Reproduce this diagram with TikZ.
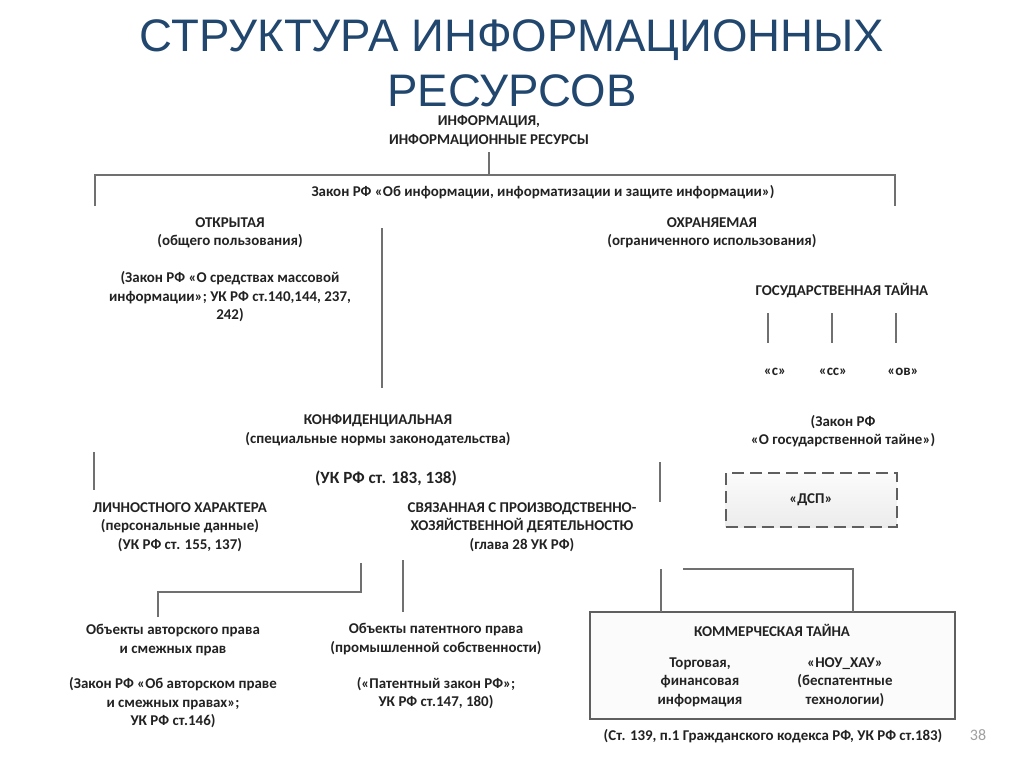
\documentclass[tikz,border=0pt]{standalone}
\usepackage{fontspec}
\setmainfont{Carlito}
\newfontfamily\titlefont{Liberation Sans}
\definecolor{txt}{HTML}{222222}
\definecolor{lnc}{HTML}{707070}
\definecolor{ttl}{HTML}{22476F}
\definecolor{pg}{HTML}{A0A0A0}
\begin{document}
\begin{tikzpicture}[x=0.75pt,y=-0.75pt,
  t/.style={font=\bfseries\fontsize{11.2}{13.9}\selectfont, text=txt, align=center, inner sep=0pt},
  ttlfont/.style={font=\titlefont\fontsize{34.2}{40}\selectfont, text=ttl, inner sep=0pt},
  conn/.style={draw=lnc, line width=1.5pt},
  dspbox/.style={draw=lnc!85!black, line width=1.5pt, dash pattern=on 9pt off 4.5pt,
     top color=gray!3, bottom color=gray!15, minimum width=128.25pt, minimum height=40.5pt,
     font=\bfseries\fontsize{11.2}{13.9}\selectfont, text=txt},
  combox/.style={draw=lnc!85!black, line width=1.5pt, fill=gray!3,
     minimum width=273.75pt, minimum height=80.25pt}]
\useasboundingbox (0,0) rectangle (1024,767);
\fill[white] (0,0) rectangle (1024,767);

% title
\node[ttlfont] (title1) at (512,40) {СТРУКТУРА ИНФОРМАЦИОННЫХ};
\node[ttlfont] (title2) at (512,91) {РЕСУРСОВ};

% root
\node[t] (info) at (489,131) {ИНФОРМАЦИЯ,\\ИНФОРМАЦИОННЫЕ РЕСУРСЫ};
\coordinate (top) at (489,175);
\coordinate (hl) at (95,175);
\coordinate (hr) at (895,175);
\coordinate (hld) at (95,206);
\coordinate (hrd) at (895,206);
\draw[conn] ([yshift=-4pt]info.south) -- (top);
\draw[conn] (hld) -- (hl) -- (hr) -- (hrd);
\node[t] (law1) at (543,192) {Закон РФ «Об информации, информатизации и защите информации»)};

% open
\node[t] (open) at (230,233) {ОТКРЫТАЯ\\(общего пользования)};
\node[t] (openlaw) at (230,297) {(Закон РФ «О средствах массовой\\информации»; УК РФ ст.140,144, 237,\\242)};
\coordinate (v1a) at (382,228);
\coordinate (v1b) at (382,388);
\draw[conn] (v1a) -- (v1b);

% protected
\node[t] (prot) at (712,233) {ОХРАНЯЕМАЯ\\(ограниченного использования)};
\node[t] (gos) at (842,291) {ГОСУДАРСТВЕННАЯ ТАЙНА};
\coordinate (g1a) at (768,313); \coordinate (g1b) at (768,343);
\coordinate (g2a) at (832,313); \coordinate (g2b) at (832,343);
\coordinate (g3a) at (896,313); \coordinate (g3b) at (896,343);
\draw[conn] (g1a) -- (g1b);
\draw[conn] (g2a) -- (g2b);
\draw[conn] (g3a) -- (g3b);
\node[t] (s1) at (775,372) {«с»};
\node[t] (s2) at (833,372) {«сс»};
\node[t] (s3) at (903,372) {«ов»};
\node[t] (goslaw) at (843,431) {(Закон РФ\\«О государственной тайне»)};
\node[dspbox] (dsp) at (811,500) {«ДСП»};

% confidential
\node[t] (conf) at (378,430) {КОНФИДЕНЦИАЛЬНАЯ\\(специальные нормы законодательства)};
\node[t] (confuk) at (386,478) {\fontsize{12.8}{15}\selectfont(УК РФ ст. 183, 138)};
\coordinate (cla) at (94,452); \coordinate (clb) at (94,490);
\coordinate (cra) at (660,462); \coordinate (crb) at (660,502);
\draw[conn] (cla) -- (clb);
\draw[conn] (cra) -- (crb);

\node[t] (pers) at (180,527) {ЛИЧНОСТНОГО ХАРАКТЕРА\\(персональные данные)\\(УК РФ ст. 155, 137)};
\node[t] (econ) at (522,527) {СВЯЗАННАЯ С ПРОИЗВОДСТВЕННО-\\ХОЗЯЙСТВЕННОЙ ДЕЯТЕЛЬНОСТЮ\\(глава 28 УК РФ)};

% intellectual property branches
\coordinate (e1a) at (361,563); \coordinate (e1b) at (361,592);
\coordinate (e1c) at (158,592); \coordinate (e1d) at (158,617);
\coordinate (e2a) at (403,560); \coordinate (e2b) at (403,612);
\draw[conn] (e1a) -- (e1b) -- (e1c) -- (e1d);
\draw[conn] (e2a) -- (e2b);

\node[t] (copy) at (173,640) {Объекты авторского права\\и смежных прав};
\node[t] (copylaw) at (173,703) {(Закон РФ «Об авторском праве\\и смежных правах»;\\УК РФ ст.146)};
\node[t] (pat) at (436,639) {Объекты патентного права\\(промышленной собственности)};
\node[t] (patlaw) at (436,693) {(«Патентный закон РФ»;\\УК РФ ст.147, 180)};

% commercial secret
\node[combox] (com) at (772.5,665.5) {};
\coordinate (k1a) at (661,569); \coordinate (k1b) at (661,612);
\coordinate (k2a) at (683,569); \coordinate (k2b) at (853,569); \coordinate (k2c) at (853,612);
\draw[conn] (k1a) -- (k1b);
\draw[conn] (k2a) -- (k2b) -- (k2c);
\node[t] (comt) at (772,630) {КОММЕРЧЕСКАЯ ТАЙНА};
\node[t] (trade) at (700,682) {Торговая,\\финансовая\\информация};
\node[t] (know) at (845,682) {«НОУ\_ХАУ»\\(беспатентные\\технологии)};
\node[t] (comlaw) at (773,736) {(Ст. 139, п.1 Гражданского кодекса РФ, УК РФ ст.183)};
\node[font=\fontsize{12}{14}\selectfont, text=pg, inner sep=0pt] (page) at (978,735) {38};
\end{tikzpicture}
\end{document}
